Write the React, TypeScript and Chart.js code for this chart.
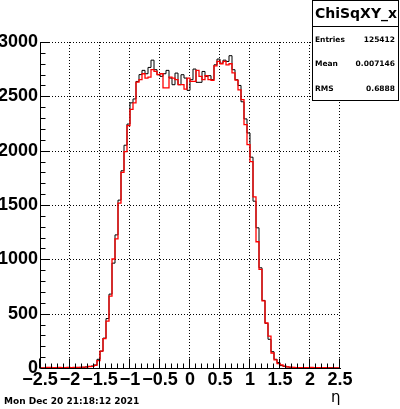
import { useEffect, useRef } from "react";
import { Chart, registerables } from "chart.js";

Chart.register(...registerables);

// Histogram definition: 100 bins on [-2.5, 2.5]
const histMin = -2.5;
const histMax = 2.5;
const nBins = 100;

// black histogram counts (per bin)
const blackCounts = [
  0, 0, 0, 3, 3, 3, 5, 2, 3, 5,
  5, 3, 4, 5, 6, 6, 10, 14, 18, 28,
  80, 155, 275, 455, 680, 965, 1225, 1545, 1815, 2050,
  2245, 2440, 2476, 2637, 2700, 2739, 2708, 2766, 2833, 2745,
  2699, 2684, 2708, 2739, 2668, 2607, 2714, 2607, 2699, 2668,
  2555, 2653, 2751, 2629, 2629, 2729, 2684, 2690, 2653, 2790,
  2843, 2805, 2833, 2821, 2874, 2745, 2653, 2600, 2450, 2292,
  2163, 1940, 1535, 1290, 922, 622, 411, 264, 150, 80,
  50, 22, 15, 10, 6, 5, 4, 3, 4, 3,
  3, 4, 3, 2, 3, 4, 3, 3, 3, 0,
];

// red histogram counts (per bin)
const redCounts = [
  0, 0, 0, 5, 5, 3, 3, 5, 3, 3,
  5, 4, 5, 5, 6, 8, 8, 14, 15, 25,
  68, 155, 270, 432, 662, 1003, 1189, 1518, 1800, 1992,
  2230, 2380, 2440, 2630, 2654, 2708, 2668, 2677, 2745, 2729,
  2699, 2708, 2577, 2577, 2677, 2668, 2653, 2607, 2607, 2567,
  2668, 2637, 2637, 2739, 2684, 2653, 2690, 2653, 2647, 2781,
  2821, 2800, 2821, 2790, 2800, 2715, 2650, 2560, 2470, 2240,
  2056, 1900, 1575, 1162, 907, 618, 414, 294, 138, 75,
  40, 28, 18, 10, 8, 5, 4, 3, 4, 3,
  3, 5, 4, 3, 3, 4, 3, 2, 2, 0,
];

const xTickValues = [-2.5, -2, -1.5, -1, -0.5, 0, 0.5, 1, 1.5, 2, 2.5];
const yTickValues = [0, 500, 1000, 1500, 2000, 2500, 3000];
const yMax = 3000;

const histTitle = "ChiSqXY_x";
const statLabels = ["Entries", "Mean", "RMS"];
const statValues = ["125412", "0.007146", "0.6888"];
const dateText = "Mon Dec 20 21:18:12 2021";
const xAxisTitle = "η";

function stepPoints(counts: number[]) {
  const w = (histMax - histMin) / nBins;
  const pts = counts.map((c, i) => ({ x: histMin + i * w, y: c }));
  pts.push({ x: histMax, y: counts[counts.length - 1] });
  return pts;
}

function fmt(v: number) {
  const r = Math.round(v * 10) / 10;
  const s = Math.abs(r).toString();
  return r < 0 ? "\u2212" + s : s;
}

const rootStyle = {
  id: "rootStyle",
  beforeDatasetsDraw(chart: any) {
    const { ctx, chartArea: a, scales } = chart;
    const x = scales.x;
    const y = scales.y;
    ctx.save();
    ctx.strokeStyle = "#000";
    ctx.lineWidth = 1;
    ctx.setLineDash([1, 2]);
    for (const v of xTickValues) {
      if (v <= histMin) continue;
      const px = Math.round(x.getPixelForValue(v)) - 0.5;
      ctx.beginPath();
      ctx.moveTo(px, a.top);
      ctx.lineTo(px, a.bottom);
      ctx.stroke();
    }
    for (const v of yTickValues) {
      if (v <= 0) continue;
      const py = Math.round(y.getPixelForValue(v)) + 0.5;
      ctx.beginPath();
      ctx.moveTo(a.left, py);
      ctx.lineTo(a.right, py);
      ctx.stroke();
    }
    ctx.restore();
  },
  afterDatasetsDraw(chart: any) {
    const { ctx, chartArea: a, scales } = chart;
    const x = scales.x;
    const y = scales.y;
    ctx.save();
    ctx.strokeStyle = "#000";
    ctx.lineWidth = 1;
    const bottom = Math.round(a.bottom) + 0.5;
    const left = Math.round(a.left) + 0.5;
    // axes
    ctx.beginPath();
    ctx.moveTo(left, Math.round(a.top));
    ctx.lineTo(left, bottom);
    ctx.lineTo(Math.round(a.right) + 1, bottom);
    ctx.stroke();
    // x ticks (major every 0.5, minor every 0.1)
    for (let k = 0; k <= 50; k++) {
      const v = histMin + k * 0.1;
      const px = Math.round(x.getPixelForValue(v)) - 0.5;
      const len = k % 5 === 0 ? 10 : 5;
      ctx.beginPath();
      ctx.moveTo(px, bottom);
      ctx.lineTo(px, bottom - len);
      ctx.stroke();
    }
    // y ticks (major every 500, minor every 100)
    for (let k = 0; k <= 30; k++) {
      const v = k * 100;
      const py = Math.round(y.getPixelForValue(v)) + 0.5;
      const len = k % 5 === 0 ? 9 : 5;
      ctx.beginPath();
      ctx.moveTo(left, py);
      ctx.lineTo(left + len, py);
      ctx.stroke();
    }
    // stats box
    const bx = 312.5, by = 0.5, bw = 86, bh = 100;
    ctx.fillStyle = "#fff";
    ctx.fillRect(bx, by, bw, bh);
    ctx.strokeRect(bx, by, bw, bh);
    ctx.beginPath();
    ctx.moveTo(bx, 26.5);
    ctx.lineTo(bx + bw, 26.5);
    ctx.stroke();
    ctx.fillStyle = "#000";
    ctx.textBaseline = "middle";
    ctx.textAlign = "center";
    ctx.font = "bold 14px 'DejaVu Sans'";
    ctx.fillText(histTitle, bx + bw / 2 + 0.5, 14);
    ctx.font = "bold 7.5px 'DejaVu Sans'";
    const rowsY = [40, 64, 89];
    statLabels.forEach((lab, i) => {
      ctx.textAlign = "left";
      ctx.fillText(lab, 315, rowsY[i]);
      ctx.textAlign = "right";
      ctx.fillText(statValues[i], 395, rowsY[i]);
    });
    // date
    ctx.textAlign = "left";
    ctx.textBaseline = "alphabetic";
    ctx.font = "bold 9px 'DejaVu Sans'";
    ctx.fillText(dateText, 4, 404);
    // axis title
    ctx.font = "15px 'DejaVu Sans'";
    ctx.fillText(xAxisTitle, 331, 402);
    ctx.restore();
  },
};

export default function App() {
  const ref = useRef<HTMLCanvasElement | null>(null);
  useEffect(() => {
    if (!ref.current) return;
    const chart = new Chart(ref.current, {
      type: "line",
      data: {
        datasets: [
          {
            label: "red",
            data: stepPoints(redCounts),
            borderColor: "#ff0000",
            borderWidth: 1.3,
            stepped: "after",
            pointRadius: 0,
            fill: false,
            order: 0,
          },
          {
            label: "black",
            data: stepPoints(blackCounts),
            borderColor: "#000000",
            borderWidth: 1,
            stepped: "after",
            pointRadius: 0,
            fill: false,
            order: 1,
          },
        ],
      },
      options: {
        animation: false,
        responsive: false,
        events: [],
        layout: { padding: { left: 0, top: 42, right: 60, bottom: 0 } },
        plugins: { legend: { display: false }, tooltip: { enabled: false } },
        scales: {
          x: {
            type: "linear",
            min: histMin,
            max: histMax,
            grid: { display: false, drawTicks: false },
            border: { display: false },
            afterBuildTicks: (s: any) => {
              s.ticks = xTickValues.map((v) => ({ value: v }));
            },
            afterFit: (s: any) => {
              s.height = 41;
            },
            ticks: {
              autoSkip: false,
              maxRotation: 0,
              padding: 1,
              color: "#000",
              font: { family: "'Liberation Sans'", size: 18, weight: "bold" },
              callback: (v: any) => fmt(Number(v)),
            },
          },
          y: {
            type: "linear",
            min: 0,
            max: yMax,
            grid: { display: false, drawTicks: false },
            border: { display: false },
            afterBuildTicks: (s: any) => {
              s.ticks = yTickValues.map((v) => ({ value: v }));
            },
            afterFit: (s: any) => {
              s.width = 40;
            },
            ticks: {
              autoSkip: false,
              padding: 2,
              color: "#000",
              font: { family: "'Liberation Sans'", size: 18, weight: "bold" },
              callback: (v: any) => fmt(Number(v)),
            },
          },
        },
      },
      plugins: [rootStyle],
    });
    return () => chart.destroy();
  }, []);
  return (
    <div style={{ position: "absolute", left: 0, top: 0, width: 400, height: 409, background: "#fff" }}>
      <canvas ref={ref} width={400} height={409} style={{ display: "block" }} />
    </div>
  );
}
